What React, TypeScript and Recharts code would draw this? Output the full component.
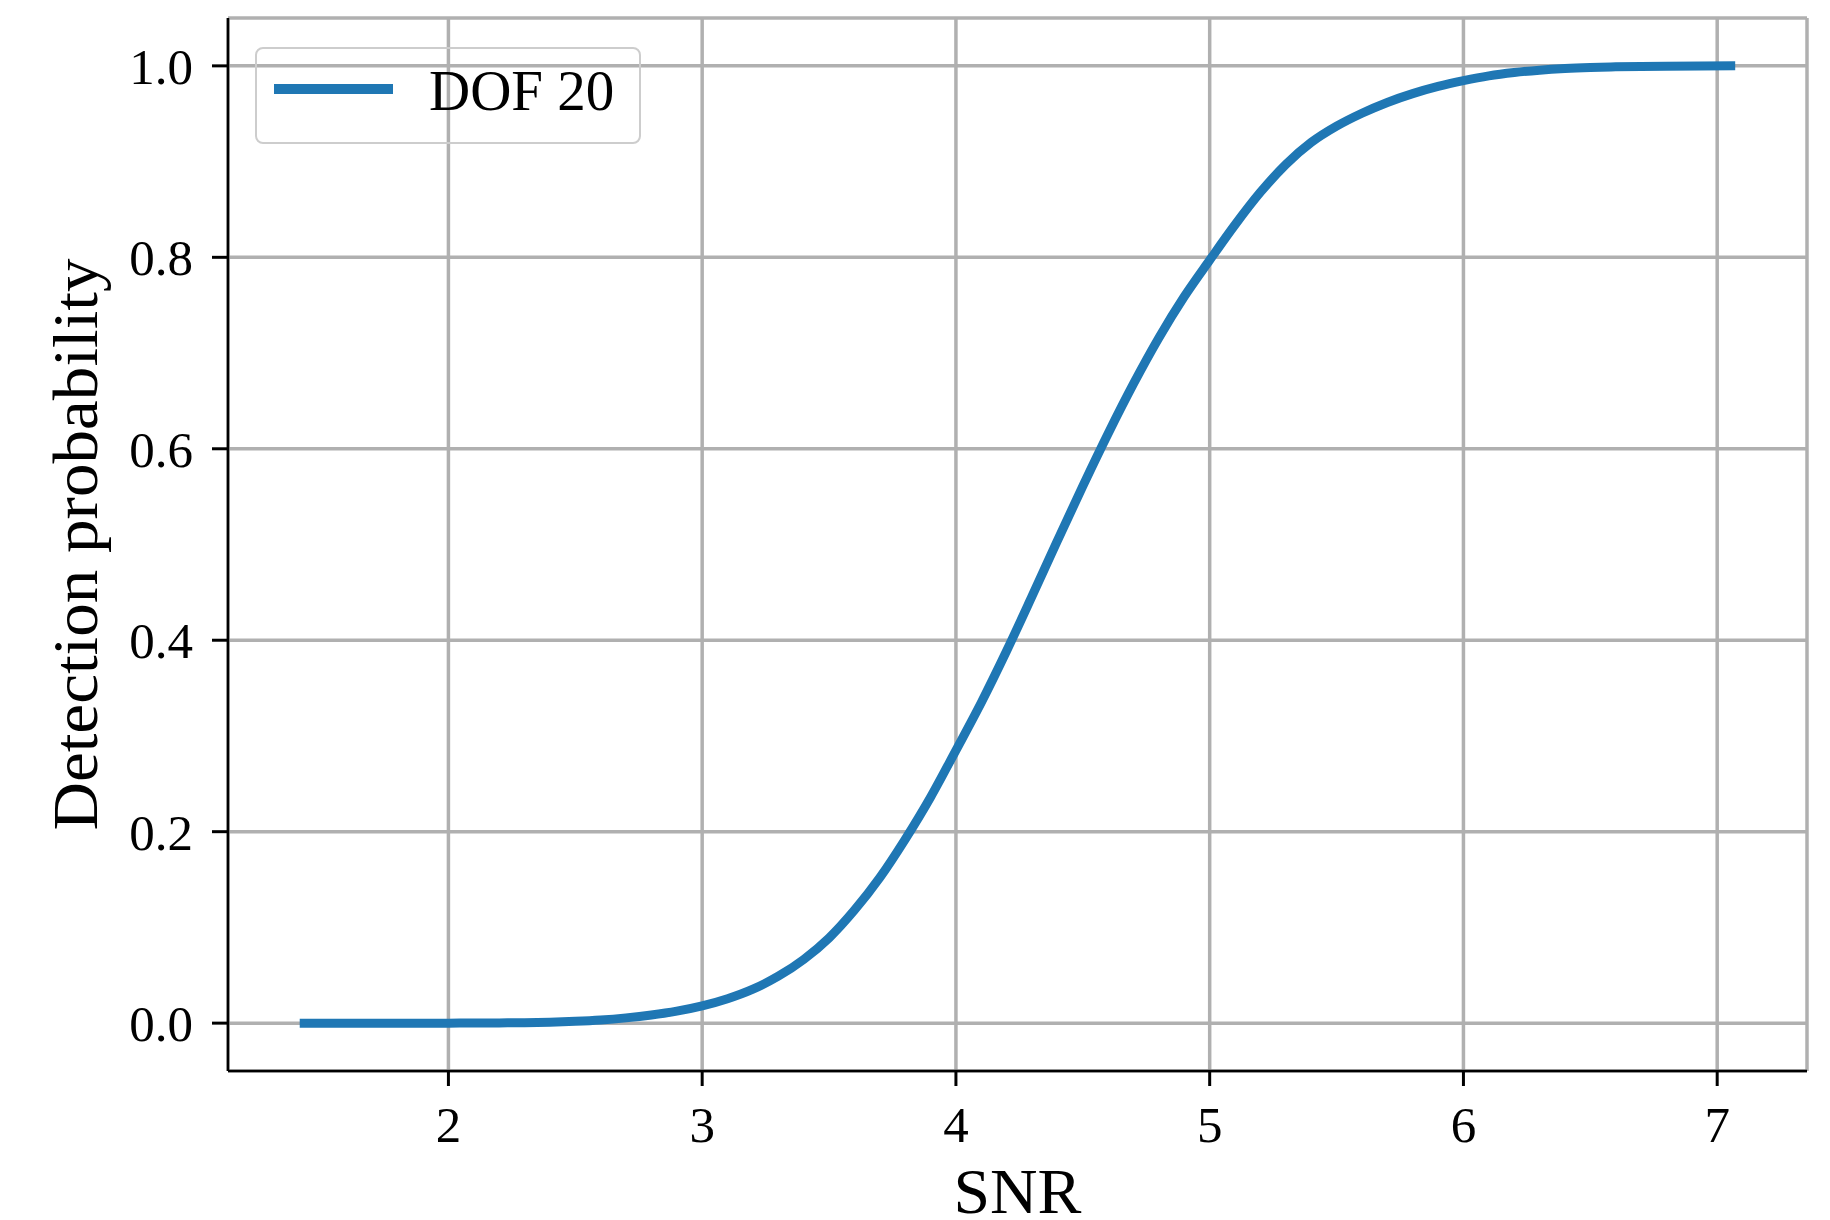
import React from "react";
import { LineChart, Line, XAxis, YAxis, CartesianGrid, Legend, Label } from "recharts";

// ---- data ----
const snrValues = [
  1.414, 1.7, 2.0, 2.1, 2.2, 2.3, 2.4, 2.5, 2.6, 2.7, 2.8, 2.9, 3.0, 3.1, 3.2, 3.3, 3.4, 3.5,
  3.6, 3.7, 3.8, 3.9, 4.0, 4.1, 4.2, 4.3, 4.4, 4.5, 4.6, 4.7, 4.8, 4.9, 5.0, 5.1, 5.2, 5.3,
  5.4, 5.5, 5.6, 5.7, 5.8, 5.9, 6.0, 6.1, 6.2, 6.3, 6.4, 6.5, 6.6, 6.8, 7.071,
];
const detectionProbability = [
  0.0, 0.0, 0.0, 0.0001, 0.0002, 0.0005, 0.001, 0.0019, 0.0033, 0.0055, 0.0085, 0.0125,
  0.018, 0.0255, 0.0355, 0.049, 0.0665, 0.089, 0.118, 0.152, 0.192, 0.236, 0.285, 0.335,
  0.389, 0.446, 0.504, 0.561, 0.616, 0.668, 0.716, 0.759, 0.797, 0.834, 0.868, 0.897, 0.92,
  0.937, 0.9505, 0.9618, 0.971, 0.9785, 0.9845, 0.9895, 0.993, 0.9955, 0.9972, 0.9983,
  0.999, 0.9997, 1.0,
];
const xTicks = [2, 3, 4, 5, 6, 7];
const yTicks = [0, 0.2, 0.4, 0.6, 0.8, 1.0];
const seriesName = "DOF 20";
const xLabel = "SNR";
const yLabel = "Detection probability";

const data = snrValues.map((s, i) => ({ snr: s, pd: detectionProbability[i] }));

const FONT = "'Liberation Serif', 'Times New Roman', serif";
const BLUE = "#1f77b4";

const renderLegend = (props: any) => {
  const item = (props.payload && props.payload[0]) || { color: BLUE, value: seriesName };
  return (
    <div
      style={{
        boxSizing: "border-box",
        width: 386,
        height: 97,
        border: "2px solid #cdcdcd",
        borderRadius: 8,
        background: "transparent",
        position: "relative",
      }}
    >
      <svg width={140} height={20} style={{ position: "absolute", left: 15, top: 30 }}>
        <line x1={2} x2={121} y1={10} y2={10} stroke={item.color} strokeWidth={10} />
      </svg>
      <span
        style={{
          position: "absolute",
          left: 172,
          top: 13,
          fontSize: 57,
          lineHeight: 1,
          fontFamily: FONT,
          color: "#000",
          whiteSpace: "nowrap",
        }}
      >
        {item.value}
      </span>
    </div>
  );
};

export default function App() {
  return (
    <LineChart
      width={1822}
      height={1212}
      data={data}
      margin={{ top: 10, right: 23, bottom: 0, left: 0 }}
    >
      <CartesianGrid stroke="#b0b0b0" strokeWidth={3.5} />
      <XAxis
        type="number"
        dataKey="snr"
        domain={[1.13137, 7.35391]}
        ticks={xTicks}
        allowDataOverflow
        height={149}
        tickSize={15}
        tickMargin={20}
        axisLine={{ stroke: "#000", strokeWidth: 2.5 }}
        tickLine={{ stroke: "#000", strokeWidth: 3 }}
        tick={{ fontSize: 51, fill: "#000", fontFamily: FONT }}
        tickFormatter={(v: number) => String(v)}
      >
        <Label
          content={(p: any) => {
            const vb = p.viewBox || {};
            return (
              <text
                x={vb.x + vb.width / 2}
                y={vb.y + 142}
                textAnchor="middle"
                fontSize={63}
                fontFamily={FONT}
                fill="#000"
                textLength={128}
                lengthAdjust="spacingAndGlyphs"
              >
                {xLabel}
              </text>
            );
          }}
        />
      </XAxis>
      <XAxis
        xAxisId="top"
        orientation="top"
        type="number"
        domain={[0, 1]}
        height={0}
        tick={false}
        tickLine={false}
        axisLine={{ stroke: "#c8c8c8", strokeWidth: 3 }}
      />
      <YAxis
        type="number"
        domain={[-0.05, 1.05]}
        ticks={yTicks}
        allowDataOverflow
        width={220}
        tickSize={16}
        tickMargin={19}
        axisLine={{ stroke: "#000", strokeWidth: 2.5 }}
        tickLine={{ stroke: "#000", strokeWidth: 3 }}
        tick={{ fontSize: 51, fill: "#000", fontFamily: FONT }}
        tickFormatter={(v: number) => v.toFixed(1)}
      >
        <Label
          content={(p: any) => {
            const vb = p.viewBox || {};
            const cy = vb.y + vb.height / 2;
            return (
              <text
                x={89}
                y={cy}
                transform={`rotate(-90, 89, ${cy})`}
                textAnchor="middle"
                fontSize={63}
                fontFamily={FONT}
                fill="#000"
                textLength={572}
                lengthAdjust="spacingAndGlyphs"
              >
                {yLabel}
              </text>
            );
          }}
        />
      </YAxis>
      <YAxis
        yAxisId="right"
        orientation="right"
        type="number"
        domain={[0, 1]}
        width={0}
        tick={false}
        tickLine={false}
        axisLine={{ stroke: "#000", strokeWidth: 2.5 }}
      />
      <Legend
        layout="horizontal"
        verticalAlign="middle"
        align="center"
        wrapperStyle={{ position: "absolute", left: 247, top: 39, width: 386, height: 97 }}
        content={renderLegend}
      />
      <Line
        type="monotone"
        dataKey="pd"
        name={seriesName}
        stroke={BLUE}
        strokeWidth={9}
        dot={false}
        activeDot={false}
        isAnimationActive={false}
      />
    </LineChart>
  );
}
